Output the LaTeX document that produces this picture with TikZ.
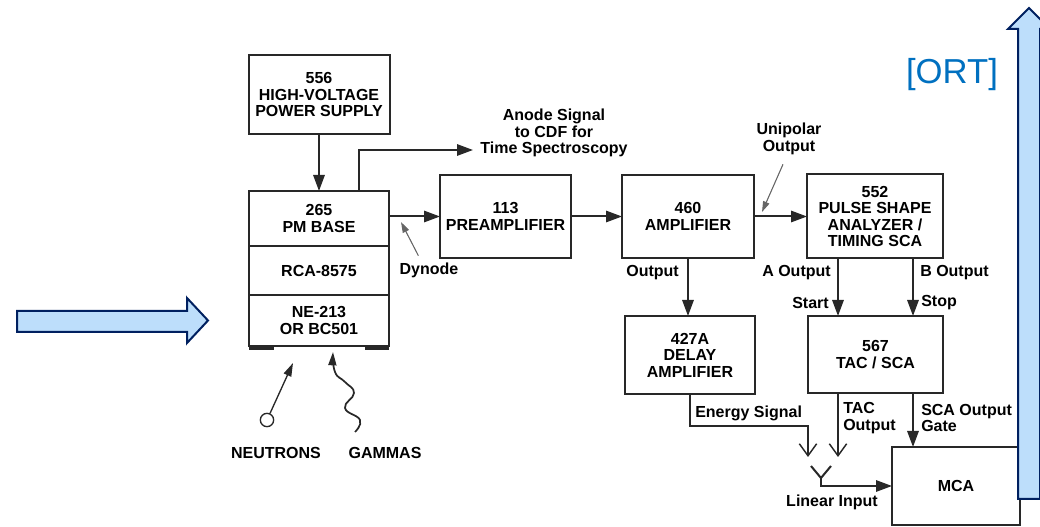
\documentclass[tikz,border=0pt]{standalone}
\usepackage{fontspec}
\setmainfont{Liberation Sans}
\usetikzlibrary{arrows.meta, positioning}
\definecolor{linegray}{RGB}{40,40,40}
\definecolor{arrowfill}{RGB}{189,222,251}
\definecolor{arrowedge}{RGB}{0,32,96}
\definecolor{ortblue}{RGB}{0,112,192}

\begin{document}
\begin{tikzpicture}[
    x=0.75pt, y=-0.75pt,
    font=\bfseries\fontsize{12}{12.4}\selectfont,
    box/.style={rectangle, draw=linegray, line width=1.5pt, align=center, inner sep=0pt, outer sep=0pt},
    boxsize/.style 2 args={minimum width=#1*0.75pt, minimum height=#2*0.75pt},
    lbl/.style={inner sep=0pt, align=left},
    arrow/.style={-{Triangle[length=12pt,width=8.5pt]}, line width=1.5pt, draw=linegray},
    wire/.style={line width=1.5pt, draw=linegray},
    openarrow/.style={-{Straight Barb[length=9pt,width=13pt,line width=1.1pt]}, line width=1.5pt, draw=linegray},
    pointer/.style={-{Triangle[length=8pt,width=5pt]}, line width=0.8pt, draw=gray!80!black, fill=gray!80!black},
    particle/.style={-{Triangle[length=10pt,width=6pt]}, line width=1pt, draw=linegray, fill=linegray},
    blockarrow/.style={fill=arrowfill, draw=arrowedge, line width=1.5pt, line join=miter}
]
\useasboundingbox (0,0) rectangle (1040,527);
\clip (0,0) rectangle (1040,527);

% detector chain
\node[box, boxsize={141}{79}] (hv) at (319,94.5) {556\\HIGH-VOLTAGE\\POWER SUPPLY};
\node[box, boxsize={140}{55}] (pmbase) at (319,218.5) {265\\PM BASE};
\node[box, boxsize={140}{49}, below=0pt of pmbase] (rca) {RCA-8575};
\node[box, boxsize={140}{51}, below=0pt of rca] (scint) {NE-213\\OR BC501};
\draw[line width=2.5pt, linegray] ([yshift=-1.5pt]scint.south west) -- ++(25,0);
\draw[line width=2.5pt, linegray] ([yshift=-1.5pt]scint.south east) -- ++(-24,0);

% electronics
\node[box, boxsize={131}{83}] (preamp) at (505.5,216.5) {113\\PREAMPLIFIER};
\node[box, boxsize={132}{83}] (amp) at (688,216.5) {460\\AMPLIFIER};
\node[box, boxsize={136}{84}] (psa) at (875,216.5) {552\\PULSE SHAPE\\ANALYZER /\\TIMING SCA};
\node[box, boxsize={130}{78}] (delay) at (690,355) {427A\\DELAY\\AMPLIFIER};
\node[box, boxsize={135}{77}] (tac) at (875.5,354.5) {567\\TAC / SCA};
\node[box, boxsize={128}{78}] (mca) at (956,486) {MCA};

\coordinate (anodeend) at (473,150);
\coordinate (colA) at (838,0);
\coordinate (colB) at (913,0);
\coordinate (enbend) at (808,426);
\coordinate (entip) at (808,457);
\coordinate (yleft) at (811,466);
\coordinate (yright) at (831,466);
\coordinate (yjoin) at (821,478);

\draw[arrow] (hv) -- (pmbase);
\draw[arrow] ([xshift=30pt]pmbase.north) |- (anodeend);
\draw[arrow] (pmbase.east |- preamp.west) -- (preamp.west);
\draw[arrow] (preamp) -- (amp);
\draw[arrow] (amp) -- (psa);
\draw[arrow] (amp.south) -- (amp.south |- delay.north);
\draw[arrow] (psa.south -| colA) -- (tac.north -| colA);
\draw[arrow] (psa.south -| colB) -- (tac.north -| colB);
\draw[openarrow] (delay.south) |- (enbend) -- (entip);
\draw[openarrow] (tac.south -| colA) -- (colA |- entip);
\draw[arrow] (tac.south -| colB) -- (mca.north -| colB);
\draw[wire] (yleft) -- (yjoin) -- (yright);
\draw[arrow] (yjoin) |- (mca.west);

% labels
\node[lbl, align=center] (anode) at (554,133) {Anode Signal\\to CDF for\\Time Spectroscopy};
\node[lbl] (dyn) at (429,270) {Dynode};
\node[lbl, align=center] (unip) at (789,139) {Unipolar\\Output};
\node[lbl, anchor=east] (ampout) at (679,273) {Output};
\node[lbl, anchor=east] (aout) at (831,273) {A Output};
\node[lbl, anchor=east] (start) at (829,303) {Start};
\node[lbl, anchor=west] (bout) at (920,273) {B Output};
\node[lbl, anchor=west] (stop) at (921,303) {Stop};
\node[lbl, anchor=west] (energy) at (695,413) {Energy Signal};
\node[lbl, anchor=west] (tacout) at (843,418) {TAC\\Output};
\node[lbl, anchor=west] (scaout) at (921,418) {SCA Output\\Gate};
\node[lbl] (linin) at (832,502) {Linear Input};

\coordinate (dyntip) at (401,222);
\coordinate (uniptip) at (762,212);
\draw[pointer] ([shift={(-8pt,5pt)}]dyn.north) -- (dyntip);
\draw[pointer] ([shift={(-4.5pt,-7pt)}]unip.south) -- (uniptip);

% radiation
\node[circle, draw=linegray, line width=1pt, minimum size=10pt, inner sep=0pt] (neutron) at (267,420) {};
\coordinate (ntip) at (293,363);
\draw[particle] (neutron) -- (ntip);
\draw[particle, fill=none, line width=1.3pt] plot[smooth, tension=0.8] coordinates {(355,432) (360,420) (345,408) (354,393) (345,382) (335,372) (333,352)};
\node[lbl] (nlbl) at (276,453) {NEUTRONS};
\node[lbl] (glbl) at (385,453) {GAMMAS};

% block arrows
\filldraw[blockarrow] (17,311) -- (187,311) -- (187,298) -- (208,320.5) -- (187,343) -- (187,332) -- (17,332) -- cycle;
\filldraw[blockarrow] (1018,499) -- (1018,29) -- (1008,29) -- (1029,8) -- (1050,29) -- (1040,29) -- (1040,499) -- cycle;
\node[inner sep=0pt, text=ortblue, font=\mdseries\fontsize{26}{30}\selectfont] (ort) at (952,75) {[ORT]};
\end{tikzpicture}
\end{document}
